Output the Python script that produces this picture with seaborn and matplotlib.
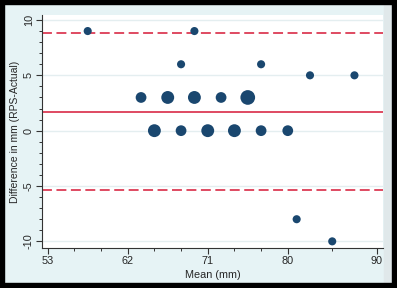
"""Bland-Altman plot: RPS vs actual measurement (mm)."""

import matplotlib.pyplot as plt
import matplotlib.patches as mpatches
import numpy as np
import pandas as pd
import seaborn as sns

# data
mean_mm = [57.5, 69.5, 68, 77, 82.5, 87.5,
           63.5, 66.5, 69.5, 72.5, 75.5,
           65, 68, 71, 74, 77, 80,
           81, 85]
diff_mm = [9, 9, 6, 6, 5, 5,
           3, 3, 3, 3, 3,
           0, 0, 0, 0, 0, 0,
           -8, -10]
n_obs = [1, 1, 1, 1, 1, 1,
         2, 3, 3, 2, 4,
         3, 2, 3, 3, 2, 2,
         1, 1]
mean_diff = 1.73
limits = [8.8, -5.35]

x_major = [53, 62, 71, 80, 90]
x_minor = [56, 59, 65, 68, 74, 77, 85]
y_major = [-10, -5, 0, 5, 10]

NAVY = "#1a476f"
RED = "#dc3c55"
REGION = "#e6f3f5"
GRID = "#e4eef0"

sns.set_style("white")
plt.rcParams["font.family"] = ["Liberation Sans", "DejaVu Sans"]

df = pd.DataFrame({"mean": mean_mm, "diff": diff_mm, "n": n_obs})

fig = plt.figure(figsize=(3.97, 2.88), dpi=100, facecolor=REGION)
ax = fig.add_axes([42 / 397, 1 - 248 / 288, (383 - 42) / 397, (248 - 15) / 288])
ax.set_facecolor("white")

for y in y_major:
    ax.axhline(y, color=GRID, lw=1.0, zorder=0)

ax.axhline(mean_diff, color=RED, lw=1.3, zorder=1)
for lim in limits:
    ax.axhline(lim, color=RED, lw=1.3, ls=(0, (5.5, 2.5)), zorder=1)

sns.scatterplot(data=df, x="mean", y="diff", size="n", sizes=(34, 112),
                size_norm=(1, 4), color=NAVY, linewidth=0, legend=False,
                ax=ax, zorder=3)

ax.set_xlim(52.36, 90.71)
ax.set_ylim(-10.6, 10.45)
ax.set_xticks(x_major)
ax.set_xticks(x_minor, minor=True)
ax.set_yticks(y_major)
ax.set_yticks(np.arange(-10, 11, 1), minor=True)
ax.set_yticklabels([str(v) for v in y_major], rotation=90, va="center")

for side in ["top", "right"]:
    ax.spines[side].set_visible(False)
for side in ["left", "bottom"]:
    ax.spines[side].set_color("#333333")
    ax.spines[side].set_linewidth(0.8)

ax.tick_params(which="major", length=4, width=0.8, color="#333333",
               labelsize=7.8, pad=2, left=True, bottom=True)
ax.tick_params(which="minor", length=2, width=0.7, color="#333333",
               left=True, bottom=True)

ax.set_xlabel("Mean (mm)", fontsize=7.8, labelpad=3)
ax.set_ylabel("Difference in mm (RPS-Actual)", fontsize=7.5, labelpad=3)

# screenshot frame
W, H = 397, 288
fig.patches.append(mpatches.Rectangle((384 / W, 0), 8 / W, 1, color="#e0e8ea",
                                      transform=fig.transFigure, zorder=-1))
for x0, y0, w, h in [(0, 0, 4, H), (W - 5, 0, 5, H), (0, 0, W, 5), (0, H - 4, W, 4)]:
    fig.patches.append(mpatches.Rectangle((x0 / W, y0 / H), w / W, h / H,
                                          color="black", transform=fig.transFigure,
                                          zorder=5))

fig.savefig("out.png", dpi=100, facecolor=REGION)
